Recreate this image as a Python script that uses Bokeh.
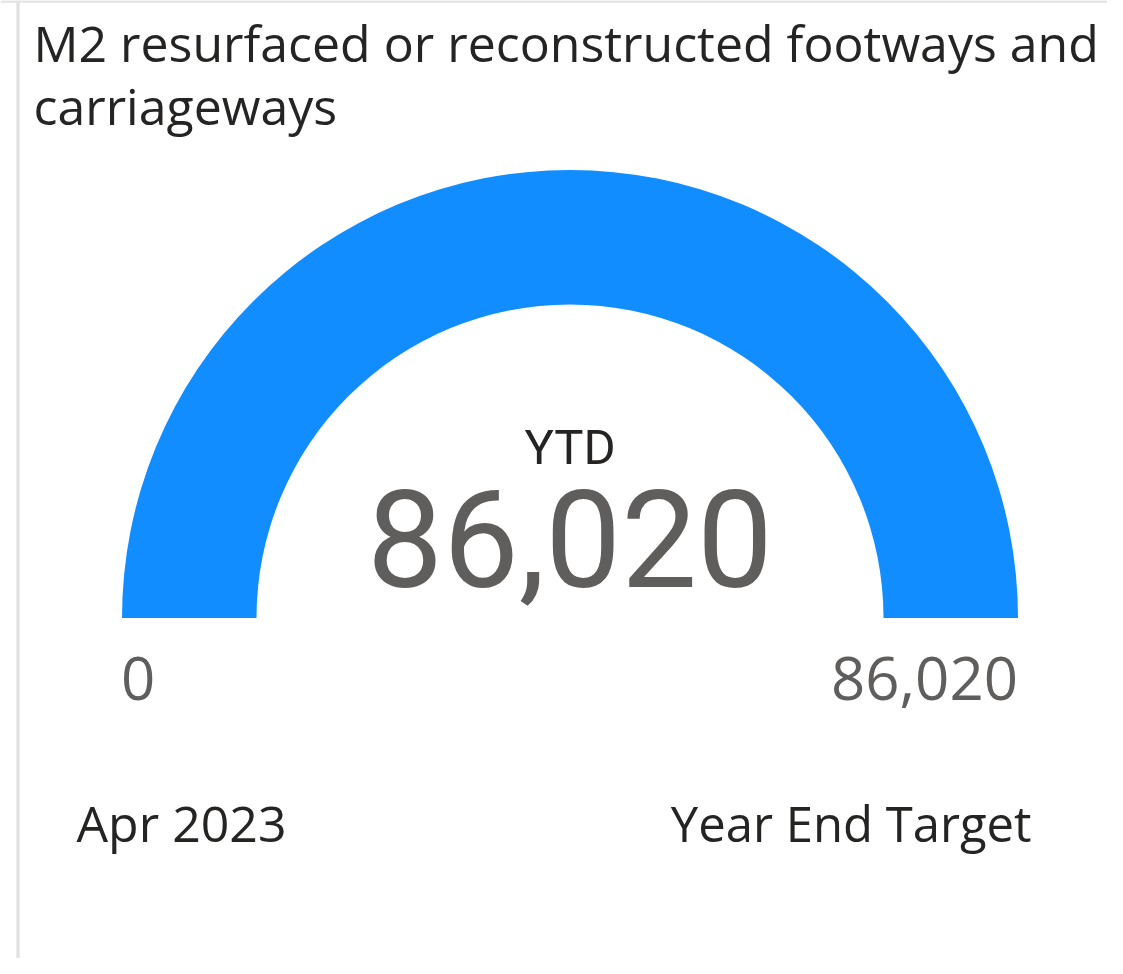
import math
from bokeh.plotting import figure
from bokeh.models import Range1d, Span
from bokeh.core.properties import value
from bokeh.embed import file_html
from bokeh.resources import INLINE

# ---- data ----
title_lines = ["M2 resurfaced or reconstructed footways and", "carriageways"]
gauge_min = 0
gauge_max = 86020
ytd_value = 86020
center_label = "YTD"
min_caption = "Apr 2023"
max_caption = "Year End Target"

W, H = 1107, 958

p = figure(width=W, height=H, output_backend="svg", toolbar_location=None,
           x_range=Range1d(0, W), y_range=Range1d(0, H),
           min_border=0, background_fill_color="white", border_fill_color="white")
p.axis.visible = False
p.grid.visible = False
p.outline_line_color = None

K = 0.4  # empirical baseline correction

def Y(screen_y):
    return H - screen_y

def B(screen_y, size):
    return Y(screen_y - K * size)

# frame lines
p.add_layout(Span(location=17.5, dimension="height", line_color="#E3E3E3", line_width=3.5))
p.add_layout(Span(location=H - 1, dimension="width", line_color="#E3E3E3", line_width=2.5))

# gauge
cx, cy = 569.5, 617.5
r_out, r_in = 448, 313.5
frac = (ytd_value - gauge_min) / (gauge_max - gauge_min)
split = math.pi * (1 - frac)
if split > 1e-9:
    p.annular_wedge(x=[cx], y=[Y(cy)], inner_radius=r_in, outer_radius=r_out,
                    inner_radius_units="screen", outer_radius_units="screen",
                    start_angle=[0], end_angle=[split], color="#E6E6E6", line_color=None)
p.annular_wedge(x=[cx], y=[Y(cy)], inner_radius=r_in, outer_radius=r_out,
                inner_radius_units="screen", outer_radius_units="screen",
                start_angle=[split], end_angle=[math.pi], color="#118DFF", line_color=None)

def fmt(v):
    return f"{v:,.0f}"

# title
p.text(x=[33, 33], y=[B(62, 50), B(125, 50)], text=title_lines, text_font=value("Open Sans"),
       text_font_size="50px", text_color="#252423", text_baseline="alphabetic", text_align="left")

# center
p.text(x=[cx], y=[B(467, 49)], text=[center_label], text_font=value("Roboto"),
       text_font_size="49px", text_color="#252423", text_baseline="alphabetic", text_align="center")
p.text(x=[cx], y=[B(592, 135)], text=[fmt(ytd_value)], text_font=value("Roboto"),
       text_font_size="135px", text_color="#605E5C", text_baseline="alphabetic", text_align="center")

# min / max
p.text(x=[cx - r_out - 1], y=[B(702, 60)], text=[fmt(gauge_min)], text_font=value("Open Sans"),
       text_font_size="60px", text_color="#605E5C", text_baseline="alphabetic", text_align="left")
p.text(x=[cx + r_out], y=[B(702, 60)], text=[fmt(gauge_max)], text_font=value("Open Sans"),
       text_font_size="60px", text_color="#605E5C", text_baseline="alphabetic", text_align="right")

# captions
p.text(x=[76], y=[B(842, 50)], text=[min_caption], text_font=value("Open Sans"),
       text_font_size="50px", text_color="#252423", text_baseline="alphabetic", text_align="left")
p.text(x=[1031], y=[B(842, 50)], text=[max_caption], text_font=value("Open Sans"),
       text_font_size="49px", text_color="#252423", text_baseline="alphabetic", text_align="right")

open("out.html", "w").write(file_html(p, INLINE))
